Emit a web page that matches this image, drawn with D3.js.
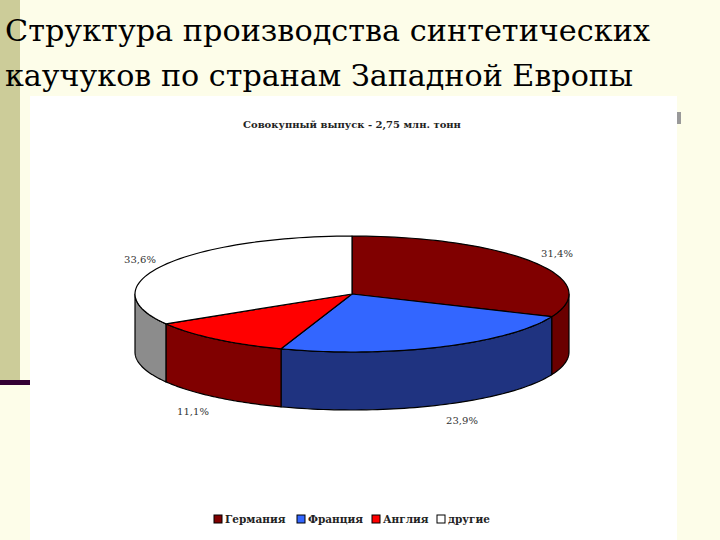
<!DOCTYPE html><html><head><meta charset="utf-8"><script src="https://cdn.jsdelivr.net/npm/d3@7"></script>
<style>body{margin:0;background:#fdfde9}svg{display:block}text{font-family:"DejaVu Serif","Liberation Serif",serif}</style></head><body><svg id="c" width="720" height="540"></svg>
<script>
const categories=["Германия","Франция","Англия","другие"];
const values=[31.4,23.9,11.1,33.6];
const labels=["31,4%","23,9%","11,1%","33,6%"];
const topColors=["#800000","#3366ff","#ff0000","#ffffff"];
const sideColors=["#6a0000","#1f3380","#800000","#8c8c8c"];
const svg=d3.select("#c");
svg.append("rect").attr("x",0).attr("y",0).attr("width",20).attr("height",382).attr("fill","#cccc99");
svg.append("rect").attr("x",0).attr("y",380).attr("width",32).attr("height",5).attr("fill","#330033");
const t=svg.append("text").attr("font-size",30).attr("fill","#000");
t.append("tspan").attr("x",5).attr("y",41).attr("textLength",645).attr("lengthAdjust","spacingAndGlyphs").text("Структура производства синтетических");
t.append("tspan").attr("x",5).attr("y",86).attr("textLength",628).attr("lengthAdjust","spacingAndGlyphs").text("каучуков по странам Западной Европы");
svg.append("rect").attr("x",30).attr("y",96).attr("width",647).attr("height",444).attr("fill","#fff");
svg.append("rect").attr("x",677).attr("y",112).attr("width",4).attr("height",12).attr("fill","#999");
svg.append("text").attr("x",352).attr("y",128).attr("text-anchor","middle").attr("font-weight","bold").attr("font-size",10).attr("fill","#222").text("Совокупный выпуск - 2,75 млн. тонн");
const cx=352,cy=294,rx=217,ry=58,depth=58;
const pie=d3.pie().sort(null)(values);
const px=a=>cx+rx*Math.sin(a), py=a=>cy-ry*Math.cos(a);
function arcPts(a0,a1,dy){const n=60,p=[];for(let i=0;i<=n;i++){const a=a0+(a1-a0)*i/n;p.push([px(a),py(a)+dy]);}return p;}
const line=d3.line();
const g=svg.append("g").attr("stroke","#000").attr("stroke-width",1.2).attr("stroke-linejoin","round");
pie.forEach((d,i)=>{const a0=Math.max(d.startAngle,Math.PI/2),a1=Math.min(d.endAngle,3*Math.PI/2);
 if(a1>a0){const p=arcPts(a0,a1,0).concat(arcPts(a0,a1,depth).reverse());g.append("path").attr("d",line(p)+"Z").attr("fill",sideColors[i]);}});
pie.forEach((d,i)=>{const p=[[cx,cy]].concat(arcPts(d.startAngle,d.endAngle,0));g.append("path").attr("d",line(p)+"Z").attr("fill",topColors[i]);});
const lpos=[[557,257],[462,424],[193,415],[140,263]];
labels.forEach((l,i)=>svg.append("text").attr("x",lpos[i][0]).attr("y",lpos[i][1]).attr("text-anchor","middle").attr("font-size",10).attr("fill","#333").text(l));
const lg=svg.append("g").attr("font-weight","bold").attr("font-size",10.5).attr("fill","#222");
const lx=[214,297,372,437];
categories.forEach((c,i)=>{lg.append("rect").attr("x",lx[i]).attr("y",515).attr("width",8).attr("height",8).attr("fill",i==3?"#fff":topColors[i]).attr("stroke","#000").attr("stroke-width",1);
 lg.append("text").attr("x",lx[i]+11).attr("y",523).text(c);});
</script></body></html>
